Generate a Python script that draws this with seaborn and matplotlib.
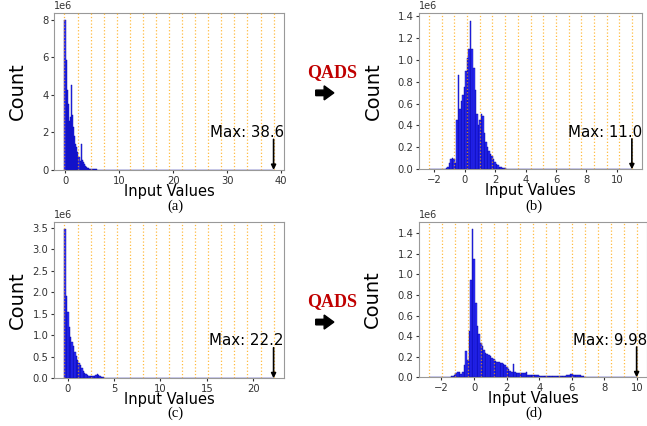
import numpy as np
import pandas as pd
import matplotlib.pyplot as plt
from matplotlib.patches import FancyArrow
from matplotlib.ticker import MultipleLocator
import seaborn as sns

# -------------------------------------------
# Histogram counts (in millions), one value per bin

# (a) original inputs, layer 1
a_min, a_max = -0.17, 38.6
a_width, a_first = 0.2, -0.17
a_counts = [7.95, 5.87, 4.25, 3.5, 2.6, 2.8, 4.5, 2.9, 2.3, 1.8, 1.4, 1.2, 0.95, 0.7,
            0.5, 1.4, 0.55, 0.4, 0.3, 0.22, 0.15, 0.12, 0.09, 0.07, 0.06, 0.05, 0.04,
            0.035, 0.03, 0.03, 0.025, 0.02, 0.015, 0.01]

# (b) after QADS, layer 1
b_min, b_max = -2.35, 11.0
b_width, b_first = 0.1, -1.45
b_counts = [0.003, 0.005, 0.01, 0.025, 0.06, 0.09, 0.1, 0.09, 0.06, 0.45, 0.86, 0.55,
            0.62, 0.68, 0.75, 0.9, 1.02, 1.1, 1.355, 1.1, 0.92, 0.72, 0.5, 0.4, 0.45,
            0.5, 0.49, 0.33, 0.25, 0.2, 0.17, 0.14, 0.12, 0.09, 0.07, 0.05, 0.035,
            0.025, 0.018, 0.014, 0.011, 0.009, 0.007, 0.006, 0.005, 0.005, 0.004,
            0.004, 0.003, 0.003, 0.002, 0.002, 0.002, 0.001, 0.001, 0.001, 0.001,
            0.001, 0.001, 0.001]

# (c) original inputs, layer 2
c_min, c_max = -0.35, 22.2
c_width, c_first = 0.15, -0.35
c_counts = [3.47, 1.92, 1.55, 1.2, 0.96, 0.85, 0.75, 0.62, 0.52, 0.42, 0.36, 0.3, 0.24,
            0.17, 0.12, 0.09, 0.07, 0.06, 0.05, 0.05, 0.05, 0.06, 0.08, 0.1, 0.07,
            0.05, 0.04, 0.03]

# (d) after QADS, layer 2
d_min, d_max = -2.74, 9.98
d_width, d_first = 0.1, -1.44
d_counts = [0.008, 0.01, 0.02, 0.04, 0.055, 0.05, 0.03, 0.05, 0.12, 0.26,
            0.17, 0.45, 0.95, 1.44, 1.15, 0.72, 0.5, 0.42, 0.33, 0.3,
            0.27, 0.24, 0.23, 0.22, 0.21, 0.19, 0.18, 0.16, 0.15, 0.145,
            0.14, 0.14, 0.13, 0.12, 0.1, 0.08, 0.06, 0.055, 0.13, 0.05,
            0.045, 0.04, 0.04, 0.04, 0.04, 0.045, 0.055, 0.025, 0.022, 0.02,
            0.02, 0.018, 0.018, 0.018, 0.017, 0.017, 0.016, 0.016, 0.016, 0.015,
            0.015, 0.015, 0.015, 0.015, 0.014, 0.014, 0.014, 0.014, 0.015, 0.015,
            0.017, 0.02, 0.025, 0.03, 0.03, 0.025, 0.02, 0.02, 0.018, 0.018,
            0.015, 0.01]

max_labels = ['38.6', '11.0', '22.2', '9.98']
captions = ['(a)', '(b)', '(c)', '(d)']
x_steps = [10, 2, 5, 2]
y_steps = [2e6, 0.2e6, 0.5e6, 0.2e6]
n_levels = 16

panels = [
    (a_min, a_max, a_width, a_first, a_counts),
    (b_min, b_max, b_width, b_first, b_counts),
    (c_min, c_max, c_width, c_first, c_counts),
    (d_min, d_max, d_width, d_first, d_counts),
]

# axes boxes in figure fraction
boxes = [
    [0.0835, 0.601, 0.3555, 0.3685],
    [0.6476, 0.6026, 0.3447, 0.366],
    [0.0835, 0.112, 0.3555, 0.3676],
    [0.6476, 0.1143, 0.3524, 0.365],
]
caption_pos = [(0.2705, 0.517), (0.8253, 0.517), (0.2705, 0.029), (0.8253, 0.029)]

plt.rcParams['font.family'] = ['DejaVu Sans']

fig = plt.figure(figsize=(6.47, 4.26), dpi=100)

for i, (lo, hi, w, first, counts) in enumerate(panels):
    ax = fig.add_axes(boxes[i])
    counts = np.array(counts)
    centers = first + w * (np.arange(len(counts)) + 0.5)
    df = pd.DataFrame({'value': centers, 'count': counts * 1e6})
    sns.histplot(data=df, x='value', weights='count', binwidth=w,
                 binrange=(lo, hi), color='blue', alpha=0.8,
                 edgecolor='#0000a0', linewidth=0.3, ax=ax)

    # quantization levels between min and max
    for lv in np.linspace(lo, hi, n_levels + 1):
        ax.axvline(lv, color='orange', linestyle=':', linewidth=0.9, alpha=0.75, zorder=3)

    # max marker
    ax.annotate('', xy=(hi, 0), xytext=(hi, 0.195),
                xycoords=('data', 'axes fraction'), textcoords=('data', 'axes fraction'),
                arrowprops=dict(arrowstyle='-|>', color='black', lw=1.2,
                                mutation_scale=7, shrinkA=0, shrinkB=0))
    ax.annotate(f'Max: {max_labels[i]}', xy=(hi, 0.21),
                xycoords=('data', 'axes fraction'), xytext=(7.5, 0),
                textcoords='offset points', ha='right', va='baseline', fontsize=10.8)

    ax.xaxis.set_major_locator(MultipleLocator(x_steps[i]))
    ax.yaxis.set_major_locator(MultipleLocator(y_steps[i]))
    ax.set_xlabel('Input Values', fontsize=10.5, labelpad=-1)
    ax.set_ylabel('Count', fontsize=14)
    ax.yaxis.set_label_coords(-0.117 if i % 2 == 0 else -0.161, 0.5)
    ax.tick_params(labelsize=7.2, length=2.5, pad=1.5, colors='0.2')
    ax.yaxis.get_offset_text().set_fontsize(7)
    for s in ax.spines.values():
        s.set_color('0.6')
    fig.text(caption_pos[i][0], caption_pos[i][1], captions[i], ha='center', va='center',
             family='Liberation Serif', fontsize=10.5)

# QADS arrows between columns
for yq, ya in [(0.829, 0.782), (0.293, 0.244)]:
    fig.text(0.513, yq, 'QADS', ha='center', va='center', family='Liberation Serif',
             fontweight='bold', fontsize=13, color='#c00000')
    fig.add_artist(FancyArrow(0.488, ya, 0.028, 0, width=0.013, head_width=0.033,
                              head_length=0.015, length_includes_head=True,
                              color='black', transform=fig.transFigure))

fig.savefig('out.png', dpi=100)
